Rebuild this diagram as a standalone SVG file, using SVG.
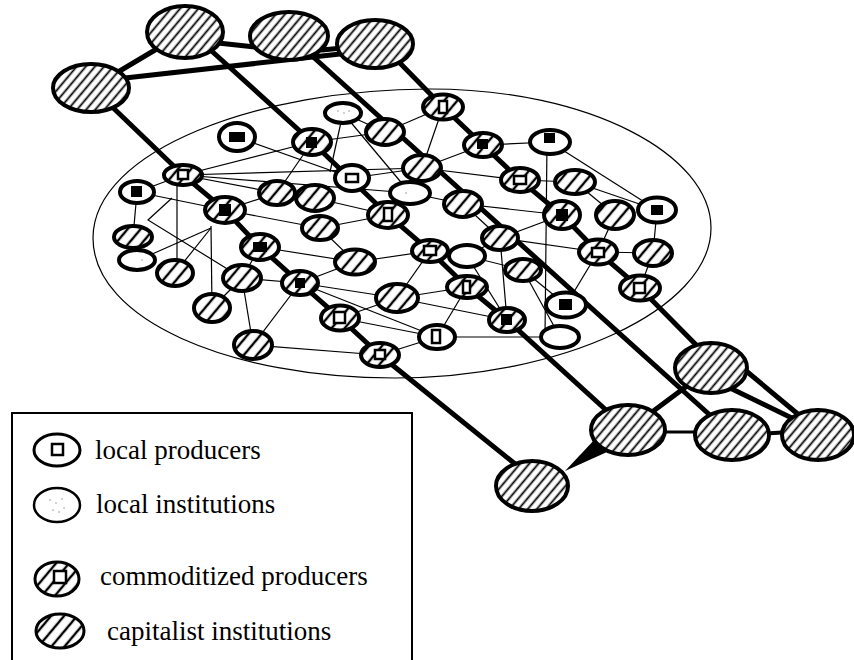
<svg xmlns="http://www.w3.org/2000/svg" width="854" height="660" viewBox="0 0 854 660">
<style>
.bg{fill:#fff}
.thin{stroke:#000;stroke-width:1.2;fill:none}
.thick{stroke:#000;stroke-width:5;fill:none;stroke-linecap:round}
.big{fill:url(#hb);stroke:#000;stroke-width:4}
.k{fill:url(#hs);stroke:#000;stroke-width:4}
.c{fill:url(#hs);stroke:#000;stroke-width:4}
.p{fill:#fff;stroke:#000;stroke-width:4}
.l{fill:#fff;stroke:#000;stroke-width:4}
.sq{fill:#000}
.sqo{fill:#fff;stroke:#000;stroke-width:2.5}
.dot{fill:#999}
.lg{font-family:"Liberation Serif","Times New Roman",serif;font-size:27px;fill:#000}
</style>
<defs>
<pattern id="hb" width="7" height="7" patternUnits="userSpaceOnUse" patternTransform="rotate(40)">
<rect width="7" height="7" fill="#fff"/><line x1="3.5" y1="0" x2="3.5" y2="7" stroke="#000" stroke-width="1.8"/>
</pattern>
<pattern id="hs" width="10" height="10" patternUnits="userSpaceOnUse" patternTransform="rotate(40)">
<rect width="10" height="10" fill="#fff"/><line x1="5" y1="0" x2="5" y2="10" stroke="#000" stroke-width="2.4"/>
</pattern>
</defs>
<rect class="bg" width="854" height="660"/>

<!-- region outline -->
<path class="thin" d="M93,238 C93,150 260,89 430,89 C590,89 711,155 711,228 C711,310 560,378 395,378 C230,378 93,320 93,238 Z"/>

<g id="connectors">
<g id="thin-links">
<line class="thin" x1="237" y1="137" x2="352" y2="178"/>
<line class="thin" x1="183" y1="175" x2="312" y2="142"/>
<line class="thin" x1="183" y1="175" x2="277" y2="193"/>
<line class="thin" x1="177" y1="178" x2="177" y2="273"/>
<line class="thin" x1="183" y1="175" x2="422" y2="168"/>
<line class="thin" x1="183" y1="175" x2="410" y2="193"/>
<line class="thin" x1="137" y1="192" x2="225" y2="210"/>
<line class="thin" x1="137" y1="192" x2="183" y2="175"/>
<line class="thin" x1="225" y1="210" x2="320" y2="228"/>
<line class="thin" x1="225" y1="210" x2="277" y2="193"/>
<line class="thin" x1="211" y1="228" x2="150" y2="255"/>
<line class="thin" x1="211" y1="226" x2="212" y2="308"/>
<line class="thin" x1="211" y1="228" x2="175" y2="273"/>
<polyline class="thin" points="172,198 148,220 242,278"/>
<line class="thin" x1="277" y1="193" x2="312" y2="142"/>
<line class="thin" x1="260" y1="247" x2="355" y2="262"/>
<line class="thin" x1="300" y1="283" x2="355" y2="262"/>
<line class="thin" x1="242" y1="278" x2="300" y2="283"/>
<line class="thin" x1="300" y1="283" x2="397" y2="298"/>
<line class="thin" x1="253" y1="345" x2="380" y2="355"/>
<line class="thin" x1="253" y1="345" x2="242" y2="278"/>
<line class="thin" x1="253" y1="345" x2="300" y2="283"/>
<line class="thin" x1="212" y1="308" x2="242" y2="278"/>
<line class="thin" x1="260" y1="247" x2="242" y2="278"/>
<line class="thin" x1="437" y1="337" x2="560" y2="337"/>
<line class="thin" x1="437" y1="337" x2="467" y2="287"/>
<line class="thin" x1="355" y1="262" x2="430" y2="251"/>
<line class="thin" x1="397" y1="298" x2="467" y2="287"/>
<line class="thin" x1="397" y1="298" x2="430" y2="251"/>
<line class="thin" x1="320" y1="228" x2="355" y2="262"/>
<line class="thin" x1="397" y1="298" x2="507" y2="320"/>
<line class="thin" x1="340" y1="318" x2="397" y2="298"/>
<line class="thin" x1="300" y1="283" x2="437" y2="337"/>
<line class="thin" x1="340" y1="318" x2="437" y2="337"/>
<line class="thin" x1="467" y1="256" x2="500" y2="238"/>
<line class="thin" x1="467" y1="256" x2="507" y2="320"/>
<line class="thin" x1="467" y1="256" x2="523" y2="270"/>
<line class="thin" x1="443" y1="107" x2="385" y2="132"/>
<line class="thin" x1="443" y1="107" x2="422" y2="168"/>
<line class="thin" x1="385" y1="132" x2="312" y2="142"/>
<line class="thin" x1="343" y1="113" x2="385" y2="132"/>
<line class="thin" x1="483" y1="145" x2="422" y2="168"/>
<line class="thin" x1="422" y1="168" x2="352" y2="178"/>
<line class="thin" x1="410" y1="193" x2="463" y2="204"/>
<line class="thin" x1="343" y1="113" x2="330" y2="172"/>
<line class="thin" x1="343" y1="113" x2="410" y2="193"/>
<line class="thin" x1="312" y1="142" x2="352" y2="178"/>
<line class="thin" x1="483" y1="145" x2="550" y2="142"/>
<line class="thin" x1="547" y1="142" x2="545" y2="337"/>
<line class="thin" x1="550" y1="142" x2="657" y2="210"/>
<line class="thin" x1="575" y1="182" x2="615" y2="215"/>
<line class="thin" x1="615" y1="215" x2="598" y2="252"/>
<line class="thin" x1="422" y1="168" x2="520" y2="180"/>
<line class="thin" x1="463" y1="204" x2="562" y2="215"/>
<line class="thin" x1="463" y1="204" x2="500" y2="238"/>
<line class="thin" x1="575" y1="182" x2="657" y2="210"/>
<line class="thin" x1="562" y1="215" x2="500" y2="238"/>
<line class="thin" x1="598" y1="252" x2="653" y2="253"/>
<line class="thin" x1="598" y1="252" x2="566" y2="305"/>
<line class="thin" x1="500" y1="238" x2="598" y2="252"/>
<line class="thin" x1="523" y1="270" x2="566" y2="305"/>
<line class="thin" x1="500" y1="238" x2="507" y2="320"/>
<line class="thin" x1="523" y1="270" x2="560" y2="337"/>
<line class="thin" x1="653" y1="253" x2="640" y2="288"/>
<line class="thin" x1="657" y1="210" x2="653" y2="253"/>
<line class="thin" x1="315" y1="198" x2="388" y2="215"/>
<line class="thin" x1="320" y1="228" x2="388" y2="215"/>
<line class="thin" x1="133" y1="237" x2="137" y2="192"/>
<line class="thin" x1="520" y1="180" x2="575" y2="182"/>
<line class="thin" x1="443" y1="107" x2="483" y2="145"/>
<line class="thin" x1="410" y1="193" x2="388" y2="215"/>
<line class="thin" x1="380" y1="355" x2="437" y2="337"/>
</g>
<g id="thick-links">
<line class="thick" x1="118" y1="72" x2="155" y2="50"/>
<line class="thick" x1="125" y1="78" x2="340" y2="54"/>
<line class="thick" x1="218" y1="43" x2="255" y2="47"/>
<line class="thick" x1="322" y1="50" x2="342" y2="48"/>
<polyline class="thick" points="105,100 183,175 225,210 260,247 300,283 340,318 380,355 525,472"/>
<polyline class="thick" points="205,45 312,142 388,215 430,251 467,287 507,320 628,430"/>
<line class="thick" x1="300" y1="45" x2="732" y2="435"/>
<polyline class="thick" points="395,58 443,107 483,145 520,180 562,215 598,252 640,288 711,360"/>
<line class="thick" x1="628" y1="430" x2="711" y2="368"/>
<line class="thick" x1="745" y1="370" x2="805" y2="420"/>
<line class="thick" x1="730" y1="388" x2="800" y2="422"/>
<line class="thick" x1="760" y1="434" x2="790" y2="432" style="stroke-width:4"/>
<line x1="660" y1="432" x2="700" y2="432" stroke="#000" stroke-width="3"/>
<polygon points="596,438 607,452 565,471" fill="#000"/>
</g>
</g>

<!-- capitalist institutions (big) -->
<g id="cap-A"><ellipse class="big" cx="185" cy="32" rx="38" ry="26"/></g>
<g id="cap-B"><ellipse class="big" cx="289" cy="36" rx="39" ry="24"/></g>
<g id="cap-C"><ellipse class="big" cx="375" cy="44" rx="38" ry="24"/></g>
<g id="cap-D"><ellipse class="big" cx="91" cy="88" rx="38" ry="24"/></g>
<g id="cap-H"><ellipse class="big" cx="711" cy="368" rx="36" ry="25"/></g>
<g id="cap-F"><ellipse class="big" cx="628" cy="430" rx="37" ry="25"/></g>
<g id="cap-G"><ellipse class="big" cx="732" cy="435" rx="37" ry="25"/></g>
<g id="cap-I"><ellipse class="big" cx="818" cy="435" rx="36" ry="25"/></g>
<g id="cap-E"><ellipse class="big" cx="532" cy="486" rx="36" ry="25"/></g>

<!-- local producers -->
<g id="lp-1"><ellipse class="p" cx="237" cy="137" rx="18" ry="14"/><rect class="sq" x="229" y="132" width="16" height="10"/></g>
<g id="lp-2"><ellipse class="p" cx="137" cy="192" rx="17" ry="11"/><rect class="sq" x="131" y="186" width="11" height="11"/></g>
<g id="lp-3"><ellipse class="p" cx="352" cy="178" rx="17" ry="13"/><rect class="sqo" x="346" y="174" width="12" height="8"/></g>
<g id="lp-4"><ellipse class="p" cx="550" cy="142" rx="20" ry="12"/><rect class="sq" x="544" y="133" width="11" height="10"/></g>
<g id="lp-5"><ellipse class="p" cx="657" cy="210" rx="19" ry="12.5"/><rect class="sq" x="651" y="205" width="12" height="10"/></g>
<g id="lp-6"><ellipse class="p" cx="566" cy="305" rx="20" ry="12.5"/><rect class="sq" x="559" y="299" width="13" height="11"/></g>
<g id="lp-7"><ellipse class="p" cx="437" cy="337" rx="18" ry="12"/><rect class="sqo" x="432" y="330" width="8" height="13"/></g>

<!-- local institutions -->
<g id="li-1"><ellipse class="l" cx="343" cy="113" rx="18" ry="10"/><circle class="dot" cx="338" cy="111" r="0.8"/><circle class="dot" cx="344" cy="113" r="0.8"/><circle class="dot" cx="349" cy="111" r="0.8"/></g>
<g id="li-2"><ellipse class="l" cx="410" cy="193" rx="20" ry="11"/><circle class="dot" cx="406" cy="193" r="0.8"/></g>
<g id="li-3"><ellipse class="l" cx="467" cy="256" rx="18" ry="11"/></g>
<g id="li-4"><ellipse class="l" cx="137" cy="260" rx="18" ry="10"/><circle class="dot" cx="142" cy="260" r="0.8"/></g>
<g id="li-5"><ellipse class="l" cx="560" cy="337" rx="19" ry="11"/></g>

<!-- commoditized producers -->
<g id="cp-a1"><ellipse class="c" cx="183" cy="175" rx="19" ry="10"/><rect class="sqo" x="178" y="170" width="10" height="9"/></g>
<g id="cp-a2"><ellipse class="c" cx="225" cy="210" rx="20" ry="13"/><rect class="sq" x="219" y="204" width="12" height="12"/></g>
<g id="cp-a3"><ellipse class="c" cx="260" cy="247" rx="19" ry="13"/><rect class="sq" x="253" y="242" width="14" height="10"/></g>
<g id="cp-a4"><ellipse class="c" cx="300" cy="283" rx="18" ry="12"/><rect class="sq" x="295" y="278" width="10" height="10"/></g>
<g id="cp-a5"><ellipse class="c" cx="340" cy="318" rx="19" ry="12.5"/><rect class="sqo" x="334" y="312" width="11" height="11"/></g>
<g id="cp-a6"><ellipse class="c" cx="380" cy="355" rx="19" ry="12"/><rect class="sqo" x="375" y="350" width="10" height="9"/></g>
<g id="cp-b1"><ellipse class="c" cx="312" cy="142" rx="19" ry="13"/><rect class="sq" x="306" y="137" width="11" height="11"/></g>
<g id="cp-b2"><ellipse class="c" cx="388" cy="215" rx="20" ry="13"/><rect class="sqo" x="384" y="208" width="8" height="13"/></g>
<g id="cp-b3"><ellipse class="c" cx="430" cy="251" rx="18" ry="11"/><rect class="sqo" x="424" y="246" width="12" height="9"/></g>
<g id="cp-b4"><ellipse class="c" cx="467" cy="287" rx="20" ry="11"/><rect class="sqo" x="463" y="281" width="7" height="12"/></g>
<g id="cp-b5"><ellipse class="c" cx="507" cy="320" rx="18" ry="12"/><rect class="sq" x="501" y="314" width="11" height="11"/></g>
<g id="cp-d1"><ellipse class="c" cx="443" cy="107" rx="20" ry="12.5"/><rect class="sqo" x="439" y="101" width="8" height="12"/></g>
<g id="cp-d2"><ellipse class="c" cx="483" cy="145" rx="19" ry="12"/><rect class="sq" x="477" y="139" width="11" height="10"/></g>
<g id="cp-d3"><ellipse class="c" cx="520" cy="180" rx="19" ry="12"/><rect class="sqo" x="514" y="176" width="12" height="8"/></g>
<g id="cp-d4"><ellipse class="c" cx="562" cy="215" rx="18" ry="14"/><rect class="sq" x="556" y="209" width="12" height="12"/></g>
<g id="cp-d5"><ellipse class="c" cx="598" cy="252" rx="19" ry="12.5"/><rect class="sqo" x="592" y="248" width="12" height="9"/></g>
<g id="cp-d6"><ellipse class="c" cx="640" cy="288" rx="20" ry="12.5"/><rect class="sqo" x="634" y="283" width="11" height="10"/></g>

<!-- capitalist institutions (small) -->
<g id="ci-1"><ellipse class="k" cx="277" cy="193" rx="18" ry="12"/></g>
<g id="ci-2"><ellipse class="k" cx="315" cy="198" rx="19" ry="13"/></g>
<g id="ci-3"><ellipse class="k" cx="320" cy="228" rx="18" ry="12"/></g>
<g id="ci-4"><ellipse class="k" cx="385" cy="132" rx="19" ry="13"/></g>
<g id="ci-5"><ellipse class="k" cx="422" cy="168" rx="19" ry="13"/></g>
<g id="ci-6"><ellipse class="k" cx="463" cy="204" rx="19" ry="13"/></g>
<g id="ci-7"><ellipse class="k" cx="500" cy="238" rx="18" ry="12"/></g>
<g id="ci-8"><ellipse class="k" cx="523" cy="270" rx="18" ry="11"/></g>
<g id="ci-9"><ellipse class="k" cx="575" cy="182" rx="20" ry="12"/></g>
<g id="ci-10"><ellipse class="k" cx="615" cy="215" rx="19" ry="14"/></g>
<g id="ci-11"><ellipse class="k" cx="653" cy="253" rx="19" ry="13"/></g>
<g id="ci-12"><ellipse class="k" cx="133" cy="237" rx="19" ry="11"/></g>
<g id="ci-13"><ellipse class="k" cx="175" cy="273" rx="18" ry="13"/></g>
<g id="ci-14"><ellipse class="k" cx="242" cy="278" rx="19" ry="13"/></g>
<g id="ci-15"><ellipse class="k" cx="212" cy="308" rx="18" ry="14"/></g>
<g id="ci-16"><ellipse class="k" cx="253" cy="345" rx="19" ry="14"/></g>
<g id="ci-17"><ellipse class="k" cx="355" cy="262" rx="20" ry="12.5"/></g>
<g id="ci-18"><ellipse class="k" cx="397" cy="298" rx="21" ry="14"/></g>

<!-- legend -->
<g id="legend">
<polyline points="12,660 12,413 412,413 412,660" fill="none" stroke="#000" stroke-width="2"/>
<g id="legend-local-producers">
<ellipse cx="57" cy="450" rx="23" ry="16" fill="#fff" stroke="#000" stroke-width="3"/>
<rect x="52" y="444" width="11" height="11" fill="#fff" stroke="#000" stroke-width="2.5"/>
<text class="lg" x="95" y="459">local producers</text>
</g>
<g id="legend-local-institutions">
<ellipse cx="57" cy="505" rx="23" ry="17" fill="#fff" stroke="#000" stroke-width="2.5"/>
<circle class="dot" cx="50" cy="500" r="0.8"/><circle class="dot" cx="56" cy="503" r="0.8"/><circle class="dot" cx="62" cy="499" r="0.8"/><circle class="dot" cx="53" cy="510" r="0.8"/><circle class="dot" cx="64" cy="508" r="0.8"/><circle class="dot" cx="59" cy="512" r="0.8"/>
<text class="lg" x="96" y="513">local institutions</text>
</g>
<g id="legend-commoditized-producers">
<ellipse cx="57" cy="579" rx="22" ry="17" fill="url(#hs)" stroke="#000" stroke-width="3"/>
<rect x="54" y="571" width="12" height="12" fill="#fff" stroke="#000" stroke-width="2.5"/>
<text class="lg" x="100" y="585">commoditized producers</text>
</g>
<g id="legend-capitalist-institutions">
<ellipse cx="60" cy="631" rx="24" ry="17" fill="url(#hs)" stroke="#000" stroke-width="3"/>
<text class="lg" x="107" y="640">capitalist institutions</text>
</g>
</g>
</svg>
